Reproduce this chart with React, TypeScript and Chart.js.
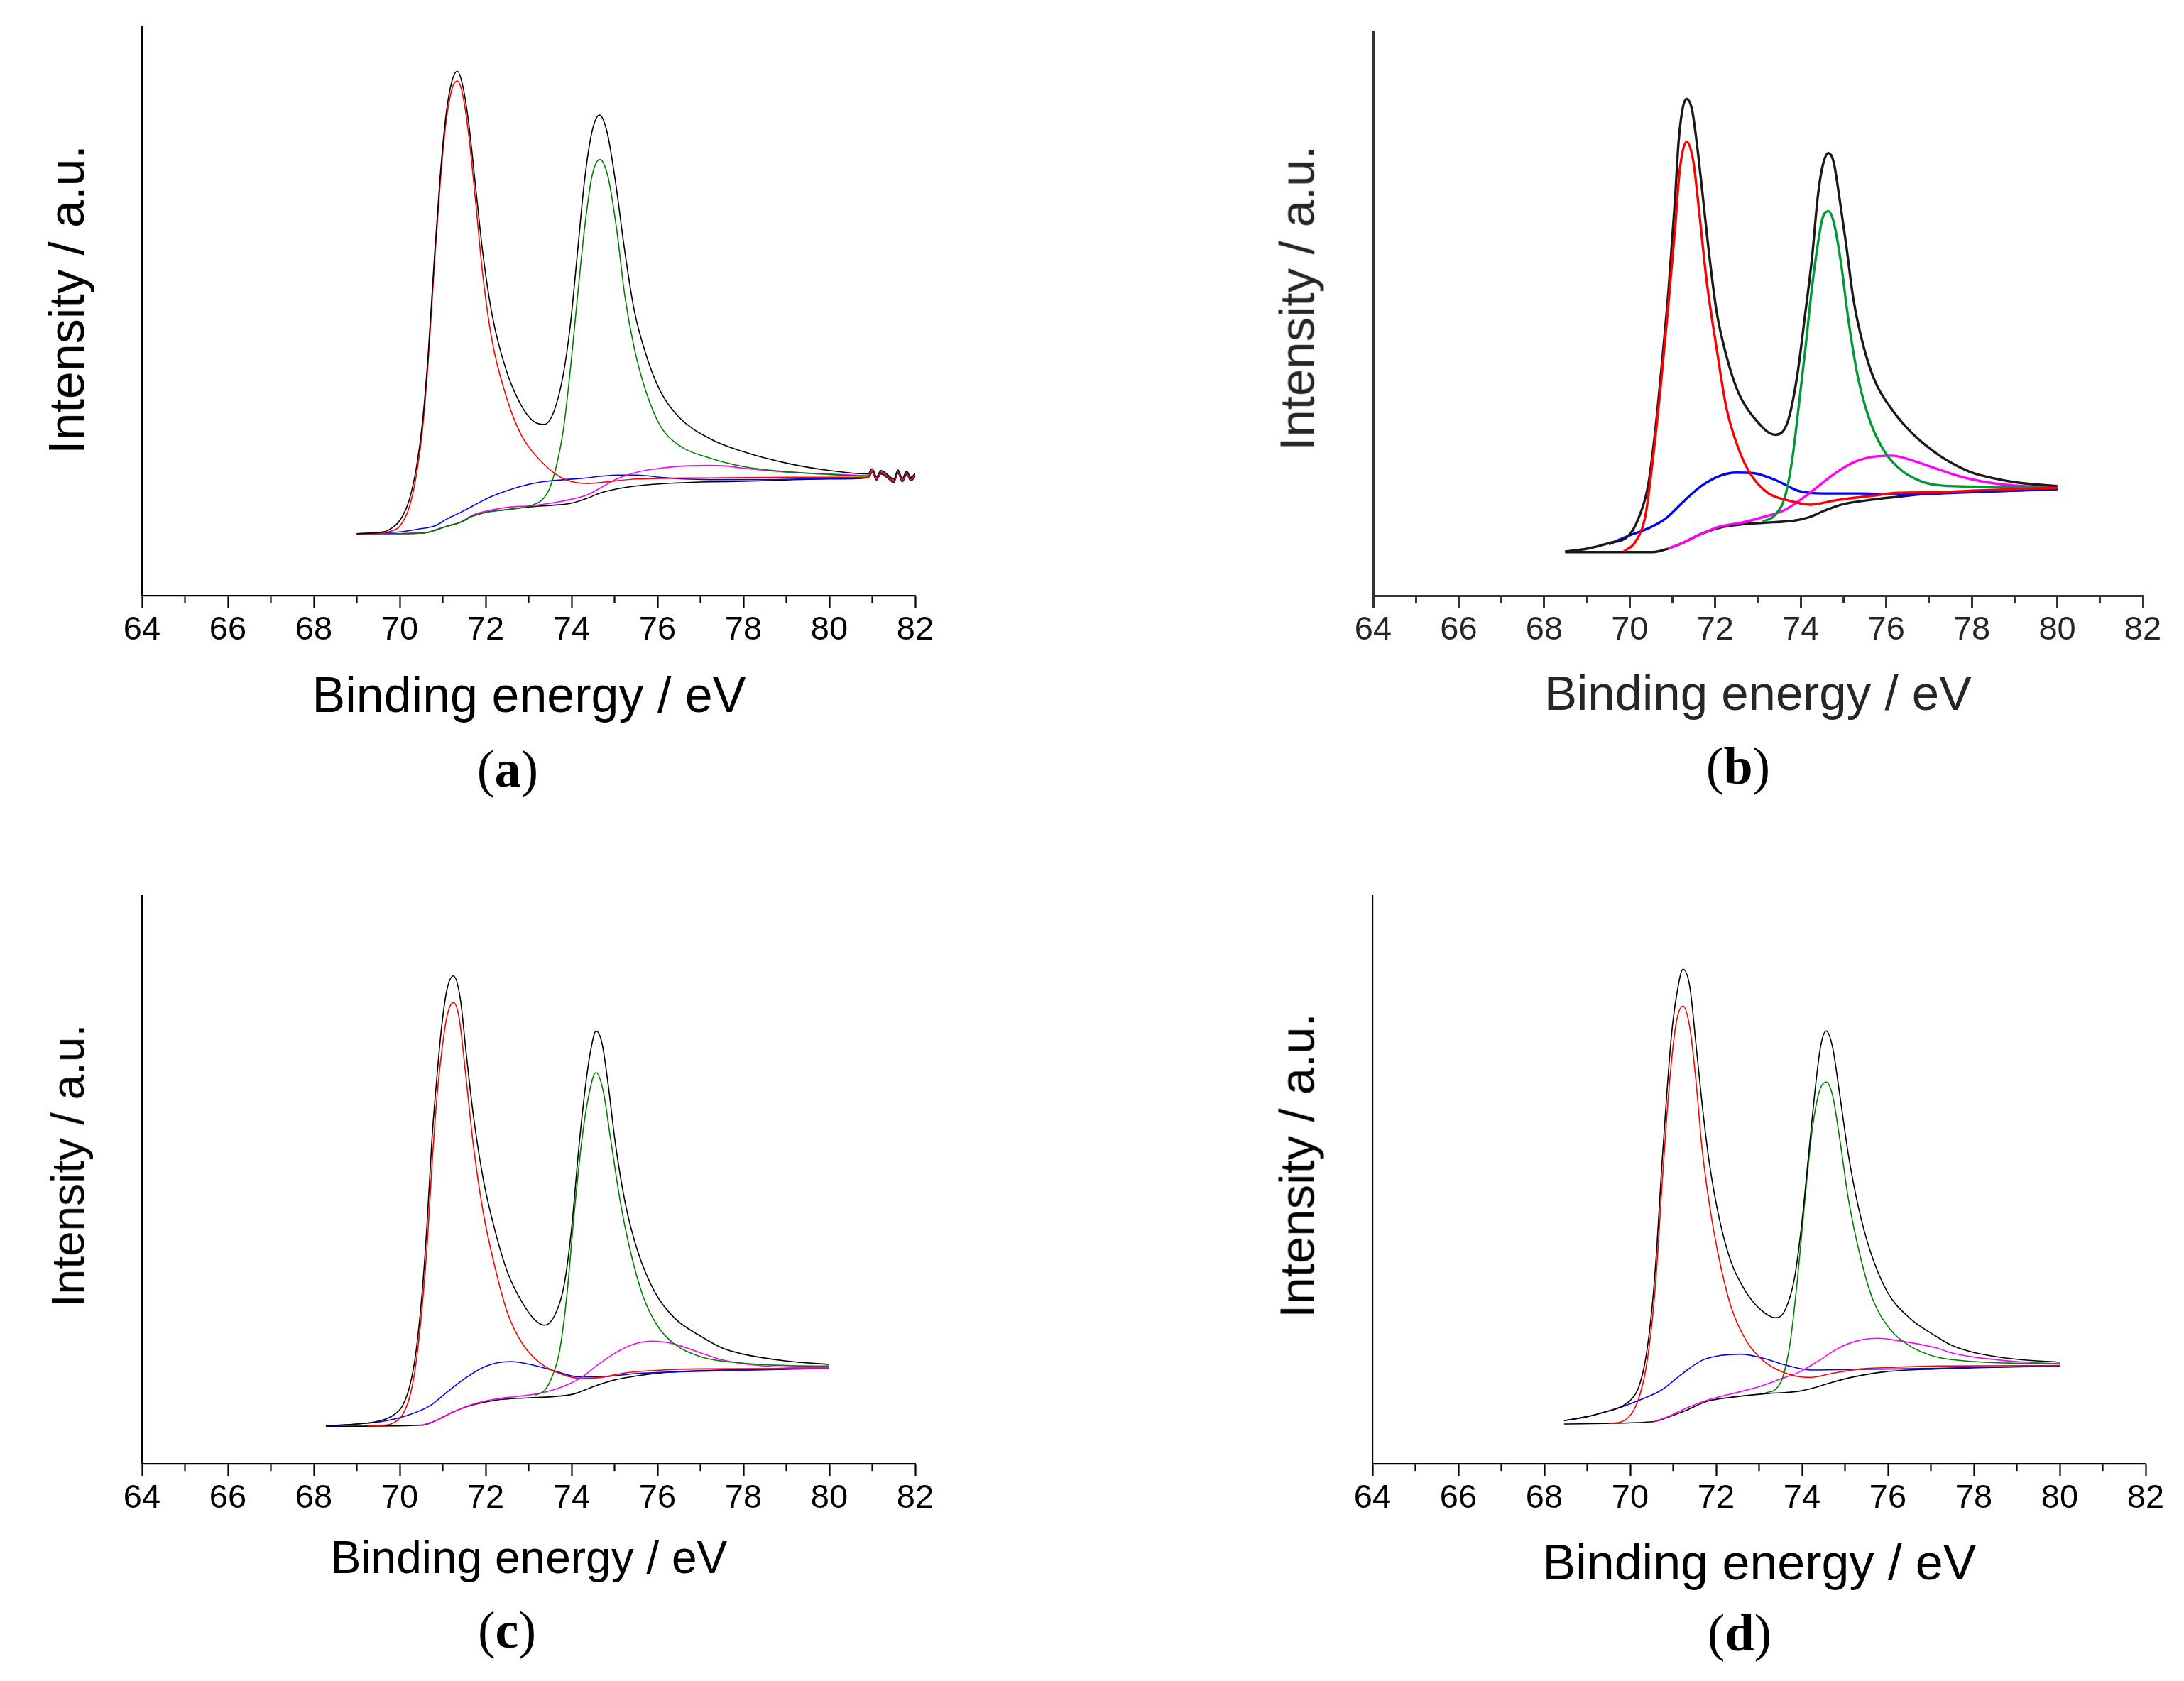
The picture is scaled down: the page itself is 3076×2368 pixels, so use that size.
import { useEffect, useRef } from 'react'
import { Chart, registerables } from 'chart.js'

Chart.register(...registerables)

type Pt = [number, number]

// binding energy (eV) / intensity (a.u., 0 = x axis, 100 = top of y axis)

// ---- panel (a)
const aTotal: Pt[] = [
  [69.0, 10.9], [69.5, 11.1], [69.73, 11.5], [70.0, 13.2], [70.22, 16.8], [70.39, 22.6], [70.53, 30.5],
  [70.66, 42.2], [70.8, 58.6], [70.94, 73.6], [71.08, 84.7], [71.22, 90.6], [71.34, 92.2], [71.46, 89.9],
  [71.6, 83.4], [71.77, 71.6], [71.93, 60.5], [72.15, 49.4], [72.48, 39.6], [72.81, 33.7], [73.09, 30.8],
  [73.36, 30.1], [73.59, 32.4], [73.81, 39.0], [73.97, 47.5], [74.14, 60.5], [74.3, 72.9], [74.47, 81.4],
  [74.65, 84.5], [74.83, 81.4], [75.02, 72.9], [75.24, 60.5], [75.46, 50.1], [75.74, 42.2], [76.07, 35.9],
  [76.51, 31.3], [77.22, 27.6], [78.0, 25.3], [79.0, 23.3], [80.0, 22.0], [80.9, 21.4], [81.0, 22.3],
  [81.1, 20.9], [81.2, 22.0], [81.35, 21.3], [81.5, 20.5], [81.6, 22.1], [81.7, 20.6], [81.8, 21.9],
  [81.9, 20.8], [82.0, 21.5],
]
const aRed: Pt[] = [
  [69.0, 10.9], [69.5, 10.9], [69.73, 11.2], [70.0, 12.2], [70.22, 15.5], [70.39, 21.3], [70.53, 29.2],
  [70.66, 40.9], [70.8, 57.3], [70.94, 72.3], [71.08, 83.4], [71.22, 89.2], [71.34, 90.5], [71.46, 88.3],
  [71.6, 81.4], [71.77, 69.0], [71.93, 56.6], [72.15, 44.8], [72.48, 35.0], [72.81, 28.5], [73.09, 25.3],
  [73.37, 23.0], [73.7, 21.0], [74.03, 20.0], [74.39, 19.7], [74.8, 20.0], [75.52, 20.5], [77.22, 20.7],
  [79.0, 20.8], [80.9, 20.8], [81.0, 21.8], [81.1, 20.5], [81.2, 21.6], [81.35, 20.9], [81.5, 20.1],
  [81.6, 21.7], [81.7, 20.2], [81.8, 21.5], [81.9, 20.4], [82.0, 21.1],
]
const aGreen: Pt[] = [
  [69.0, 10.9], [70.0, 10.9], [70.55, 11.0], [70.83, 11.5], [71.1, 12.2], [71.38, 12.8], [71.71, 14.0],
  [72.04, 14.7], [72.48, 15.1], [73.04, 15.8], [73.31, 16.8], [73.48, 18.7], [73.64, 22.6], [73.81, 29.2],
  [73.97, 39.6], [74.14, 52.7], [74.3, 64.4], [74.47, 73.6], [74.66, 76.7], [74.85, 73.6], [75.05, 64.4],
  [75.24, 52.7], [75.46, 43.5], [75.74, 35.7], [76.07, 29.8], [76.51, 26.4], [77.22, 24.2], [78.0, 22.7],
  [79.0, 21.8], [80.0, 21.3], [80.9, 21.0], [81.0, 21.9], [81.1, 20.6], [81.2, 21.7], [81.35, 21.0],
  [81.5, 20.2], [81.6, 21.8], [81.7, 20.3], [81.8, 21.6], [81.9, 20.5], [82.0, 21.2],
]
const aBlue: Pt[] = [
  [69.0, 10.9], [69.45, 11.0], [70.0, 11.2], [70.44, 11.7], [70.83, 12.3], [71.1, 13.5], [71.38, 14.5],
  [71.71, 15.8], [72.04, 17.1], [72.48, 18.4], [72.81, 19.2], [73.31, 20.0], [73.86, 20.4], [74.36, 20.7],
  [74.69, 21.0], [75.08, 21.2], [75.52, 21.2], [76.07, 20.8], [76.62, 20.5], [77.22, 20.4], [78.5, 20.4],
  [80.0, 20.6], [80.9, 20.8], [81.0, 21.7], [81.1, 20.4], [81.2, 21.5], [81.35, 20.8], [81.5, 20.0],
  [81.6, 21.6], [81.7, 20.1], [81.8, 21.4], [81.9, 20.3], [82.0, 21.0],
]
const aMagenta: Pt[] = [
  [69.0, 10.9], [70.0, 10.9], [70.55, 11.0], [70.83, 11.5], [71.1, 12.2], [71.38, 12.8], [71.71, 14.2],
  [72.04, 14.9], [72.48, 15.5], [73.04, 15.8], [73.48, 16.2], [73.97, 16.9], [74.36, 17.7], [74.69, 19.0],
  [75.02, 20.4], [75.52, 21.7], [76.07, 22.4], [76.62, 22.8], [77.22, 22.9], [77.6, 22.8], [78.0, 22.4],
  [79.0, 21.7], [80.0, 21.4], [80.9, 21.1], [81.0, 22.0], [81.1, 20.7], [81.2, 21.8], [81.35, 21.1],
  [81.5, 20.3], [81.6, 21.9], [81.7, 20.4], [81.8, 21.7], [81.9, 20.6], [82.0, 21.3],
]
const aBase: Pt[] = [
  [69.0, 10.9], [70.0, 10.9], [70.55, 11.0], [70.83, 11.5], [71.1, 12.2], [71.38, 12.8], [71.71, 14.0],
  [72.04, 14.7], [72.48, 15.1], [73.04, 15.6], [73.59, 15.9], [73.97, 16.2], [74.36, 17.1], [74.69, 18.1],
  [75.24, 19.0], [75.79, 19.5], [76.45, 19.8], [77.22, 20.0], [78.0, 20.1], [80.0, 20.5], [80.9, 20.7],
  [81.0, 21.6], [81.1, 20.3], [81.2, 21.4], [81.35, 20.7], [81.5, 19.9], [81.6, 21.5], [81.7, 20.0],
  [81.8, 21.3], [81.9, 20.2], [82.0, 20.9],
]

// ---- panel (b)
const bTotal: Pt[] = [
  [68.49, 7.8], [69.0, 8.3], [69.51, 9.3], [69.97, 10.6], [70.2, 13.6], [70.43, 19.5], [70.6, 29.4],
  [70.77, 42.5], [70.91, 54.4], [71.06, 70.2], [71.14, 80.1], [71.23, 86.0], [71.33, 88.0], [71.46, 86.0],
  [71.57, 80.1], [71.69, 72.1], [71.83, 62.3], [72.03, 50.4], [72.26, 42.5], [72.54, 36.0], [72.94, 31.2],
  [73.4, 28.5], [73.69, 30.7], [73.91, 38.6], [74.09, 49.1], [74.26, 59.6], [74.4, 70.8], [74.51, 76.1],
  [74.65, 78.4], [74.77, 76.8], [74.91, 70.2], [75.06, 62.3], [75.23, 52.6], [75.46, 44.4], [75.74, 37.9],
  [76.14, 32.9], [76.6, 28.8], [77.17, 25.2], [77.6, 23.2], [78.0, 21.8], [78.5, 20.8], [79.0, 20.1],
  [80.0, 19.4],
]
const bRed: Pt[] = [
  [69.86, 7.8], [70.14, 9.6], [70.37, 14.3], [70.54, 24.1], [70.71, 36.0], [70.89, 50.4], [71.06, 65.0],
  [71.17, 75.4], [71.33, 80.4], [71.49, 76.8], [71.63, 67.6], [71.8, 55.7], [72.03, 43.9], [72.26, 33.3],
  [72.54, 26.1], [72.83, 21.5], [73.23, 18.2], [73.69, 16.9], [74.23, 16.1], [74.83, 16.9], [75.69, 17.7],
  [76.26, 18.2], [77.17, 18.3], [78.0, 18.6], [80.0, 19.1],
]
const bGreen: Pt[] = [
  [73.11, 13.1], [73.4, 14.3], [73.63, 17.5], [73.8, 24.1], [73.94, 32.7], [74.11, 43.9], [74.26, 54.4],
  [74.4, 62.3], [74.51, 66.9], [74.65, 68.1], [74.77, 66.2], [74.94, 59.0], [75.11, 49.1], [75.34, 38.6],
  [75.63, 30.7], [75.97, 25.4], [76.37, 22.1], [76.83, 20.2], [77.17, 19.6], [78.0, 19.3], [79.0, 19.2],
  [80.0, 19.3],
]
const bBlue: Pt[] = [
  [69.51, 9.1], [69.97, 10.6], [70.43, 11.9], [70.83, 13.6], [71.29, 16.9], [71.69, 19.5], [72.14, 21.3],
  [72.49, 21.8], [72.89, 21.7], [73.4, 20.5], [73.97, 18.5], [74.54, 18.1], [75.4, 18.1], [76.37, 17.9],
  [77.6, 18.2], [80.0, 18.9],
]
const bMagenta: Pt[] = [
  [70.89, 8.3], [71.23, 9.3], [71.69, 11.0], [72.14, 12.3], [72.6, 12.9], [73.11, 13.9], [73.63, 15.2],
  [74.09, 17.5], [74.43, 19.5], [74.83, 21.8], [75.23, 23.6], [75.69, 24.6], [76.14, 24.8], [76.54, 24.1],
  [77.17, 22.5], [77.6, 21.4], [78.0, 20.6], [78.5, 19.9], [79.0, 19.5], [80.0, 19.2],
]
const bBase: Pt[] = [
  [68.49, 7.7], [70.54, 7.7], [70.89, 8.3], [71.23, 9.3], [71.69, 11.0], [72.14, 12.1], [72.6, 12.6],
  [73.11, 12.9], [73.86, 13.3], [74.2, 13.9], [74.54, 15.0], [75.0, 16.2], [75.57, 16.9], [76.26, 17.5],
  [77.17, 18.2], [78.0, 18.4], [80.0, 18.8],
]

// ---- panel (c)
const cTotal: Pt[] = [
  [68.28, 6.7], [69.0, 7.0], [69.5, 7.5], [69.84, 8.5], [70.07, 10.3], [70.24, 13.9], [70.38, 19.8],
  [70.53, 30.9], [70.64, 42.7], [70.75, 57.1], [70.87, 68.5], [70.98, 77.3], [71.1, 83.5], [71.25, 85.9],
  [71.41, 81.9], [71.55, 72.1], [71.72, 61.0], [71.95, 49.9], [72.23, 40.7], [72.52, 33.5], [72.86, 28.3],
  [73.15, 25.3], [73.37, 24.4], [73.66, 27.0], [73.83, 31.6], [74.0, 41.4], [74.17, 55.7], [74.34, 67.5],
  [74.46, 73.4], [74.57, 76.2], [74.71, 74.0], [74.85, 66.9], [75.02, 56.4], [75.25, 45.9], [75.54, 37.4],
  [75.94, 30.2], [76.39, 25.7], [77.02, 22.4], [77.5, 20.4], [78.0, 19.3], [79.0, 18.1], [80.0, 17.5],
]
const cRed: Pt[] = [
  [69.27, 6.7], [69.67, 6.8], [69.9, 7.4], [70.07, 8.7], [70.24, 12.0], [70.38, 17.8], [70.53, 28.3],
  [70.64, 38.7], [70.75, 52.5], [70.87, 64.9], [70.98, 72.7], [71.1, 78.8], [71.25, 81.2], [71.38, 78.6],
  [71.55, 67.5], [71.72, 55.7], [71.95, 44.0], [72.23, 34.2], [72.52, 26.3], [72.86, 21.1], [73.26, 17.8],
  [73.72, 15.9], [74.23, 15.0], [74.68, 15.2], [75.25, 16.0], [76.11, 16.5], [77.02, 16.7], [80.0, 16.8],
]
const cGreen: Pt[] = [
  [73.15, 12.1], [73.37, 12.9], [73.54, 15.2], [73.72, 19.8], [73.89, 29.6], [74.06, 44.0], [74.23, 56.4],
  [74.4, 64.9], [74.57, 68.9], [74.74, 65.5], [74.91, 57.1], [75.14, 45.9], [75.37, 37.4], [75.66, 29.6],
  [75.99, 24.4], [76.39, 21.1], [77.02, 18.8], [78.0, 17.7], [79.0, 17.3], [80.0, 17.2],
]
const cBlue: Pt[] = [
  [68.28, 6.6], [69.0, 7.0], [69.56, 7.4], [70.13, 8.4], [70.7, 10.2], [71.1, 12.6], [71.55, 15.2],
  [72.01, 17.2], [72.58, 18.0], [73.03, 17.5], [73.54, 16.5], [74.17, 15.3], [74.63, 15.3], [75.54, 15.9],
  [77.02, 16.3], [80.0, 16.8],
]
const cMagenta: Pt[] = [
  [70.53, 6.8], [70.87, 7.7], [71.21, 9.0], [71.67, 10.4], [72.23, 11.4], [72.8, 11.9], [73.37, 12.6],
  [73.83, 13.7], [74.23, 15.2], [74.57, 17.2], [74.97, 19.3], [75.42, 21.0], [75.88, 21.6], [76.33, 21.2],
  [77.02, 19.5], [77.5, 18.3], [78.0, 17.6], [79.0, 17.0], [80.0, 16.9],
]
const cBase: Pt[] = [
  [68.28, 6.6], [70.53, 6.8], [70.87, 7.7], [71.21, 9.0], [71.67, 10.3], [72.23, 11.2], [72.97, 11.6],
  [73.54, 11.8], [74.06, 12.3], [74.51, 13.6], [74.97, 14.7], [75.54, 15.5], [76.22, 16.1], [77.02, 16.4],
  [78.0, 16.6], [80.0, 16.8],
]

// ---- panel (d)
const dTotal: Pt[] = [
  [68.46, 7.6], [69.0, 8.3], [69.4, 9.1], [69.8, 10.1], [70.02, 11.3], [70.19, 13.3], [70.36, 18.5],
  [70.51, 27.6], [70.62, 38.1], [70.73, 51.8], [70.85, 64.9], [70.96, 75.4], [71.08, 82.5], [71.23, 87.1],
  [71.39, 83.9], [71.53, 74.0], [71.67, 63.6], [71.84, 53.1], [72.07, 43.3], [72.35, 35.5], [72.7, 30.2],
  [73.04, 27.1], [73.38, 25.7], [73.6, 27.0], [73.83, 32.9], [74.0, 42.7], [74.17, 55.7], [74.32, 66.9],
  [74.43, 73.4], [74.56, 76.2], [74.71, 73.4], [74.88, 64.9], [75.08, 54.4], [75.31, 45.3], [75.59, 37.4],
  [75.99, 30.2], [76.5, 25.7], [77.13, 22.4], [77.5, 20.8], [78.0, 19.6], [79.0, 18.4], [80.0, 17.9],
]
const dRed: Pt[] = [
  [69.51, 7.1], [69.8, 7.4], [70.02, 8.7], [70.19, 11.3], [70.36, 16.5], [70.51, 25.0], [70.62, 34.8],
  [70.73, 47.9], [70.85, 61.0], [70.96, 70.8], [71.08, 78.0], [71.23, 80.6], [71.39, 76.7], [71.53, 67.5],
  [71.67, 55.7], [71.84, 45.9], [72.07, 36.1], [72.35, 27.6], [72.7, 21.7], [73.09, 18.2], [73.6, 16.0],
  [74.17, 15.2], [74.69, 15.9], [75.37, 16.7], [76.22, 17.0], [77.13, 17.2], [80.0, 17.3],
]
const dGreen: Pt[] = [
  [73.15, 12.5], [73.38, 13.1], [73.55, 15.2], [73.72, 21.1], [73.89, 32.2], [74.06, 45.9], [74.23, 58.4],
  [74.4, 65.5], [74.56, 67.2], [74.71, 64.9], [74.88, 57.1], [75.08, 46.6], [75.37, 36.1], [75.65, 28.9],
  [76.05, 23.7], [76.5, 20.8], [77.13, 18.8], [78.0, 18.0], [79.0, 17.7], [80.0, 17.6],
]
const dBlue: Pt[] = [
  [68.46, 7.6], [69.0, 8.3], [69.4, 9.1], [69.8, 10.0], [70.25, 11.3], [70.71, 12.9], [71.22, 15.9],
  [71.67, 18.2], [72.13, 19.1], [72.58, 19.3], [73.09, 18.6], [73.66, 17.3], [74.23, 16.5], [75.08, 16.6],
  [77.13, 16.8], [80.0, 17.3],
]
const dMagenta: Pt[] = [
  [70.54, 7.4], [70.88, 8.3], [71.27, 9.7], [71.79, 11.2], [72.35, 12.3], [72.92, 13.4], [73.49, 14.9],
  [73.95, 16.2], [74.4, 18.2], [74.86, 20.4], [75.31, 21.7], [75.77, 22.1], [76.22, 21.7], [77.13, 20.4],
  [77.5, 19.5], [78.0, 18.8], [79.0, 18.0], [80.0, 17.6],
]
const dBase: Pt[] = [
  [68.46, 7.0], [70.54, 7.4], [70.88, 8.2], [71.27, 9.3], [71.79, 11.0], [72.35, 11.7], [73.09, 12.3],
  [73.95, 12.8], [74.29, 13.4], [74.63, 14.2], [75.2, 15.3], [75.94, 16.2], [77.13, 16.7], [78.0, 16.9],
  [80.0, 17.2],
]

const X_MIN = 64
const X_MAX = 82
const X_TITLE = 'Binding energy / eV'
const Y_TITLE = 'Intensity / a.u.'

const SANS = '"Liberation Sans", Arial, sans-serif'
const SERIF = '"Liberation Serif", "Times New Roman", serif'

// padding around the plot area inside each canvas
const PAD_L = 80
const PAD_R = 80
const PAD_T = 20
const X_AXIS_H = 120

type Panel = {
  label: string
  left: number
  right: number
  top: number
  bottom: number
  series: { data: Pt[]; color: string }[]
  lineWidth: number
  axisColor: string
  axisWidth: number
  textColor: string
  tickSize: number
  xTitle: [number, number, number]
  yTitle: [number, number, number]
  caption: [number, number]
}

const GREEN = '#008000'

const panels: Panel[] = [
  {
    label: 'a', left: 200, right: 1289, top: 38, bottom: 839,
    series: [
      { data: aTotal, color: '#000' }, { data: aRed, color: '#ff0000' }, { data: aGreen, color: GREEN },
      { data: aMagenta, color: '#ff00ff' }, { data: aBlue, color: '#0000ff' }, { data: aBase, color: '#000' },
    ],
    lineWidth: 1.6, axisColor: '#000', axisWidth: 2.2, textColor: '#000', tickSize: 47,
    xTitle: [745, 979, 70], yTitle: [94, 422, 70], caption: [715, 1083],
  },
  {
    label: 'b', left: 1934, right: 3018, top: 44, bottom: 839,
    series: [
      { data: bRed, color: '#ff0000' }, { data: bTotal, color: '#1a1a1a' }, { data: bGreen, color: '#009933' },
      { data: bMagenta, color: '#ff00ff' }, { data: bBlue, color: '#0000ff' }, { data: bBase, color: '#1a1a1a' },
    ],
    lineWidth: 3.4, axisColor: '#333', axisWidth: 3, textColor: '#262626', tickSize: 47,
    xTitle: [2476, 976, 69], yTitle: [1827, 420, 69], caption: [2448, 1079],
  },
  {
    label: 'c', left: 200, right: 1289, top: 1262, bottom: 2062,
    series: [
      { data: cTotal, color: '#000' }, { data: cRed, color: '#ff0000' }, { data: cGreen, color: GREEN },
      { data: cMagenta, color: '#ff00ff' }, { data: cBlue, color: '#0000ff' }, { data: cBase, color: '#000' },
    ],
    lineWidth: 1.6, axisColor: '#000', axisWidth: 2.2, textColor: '#000', tickSize: 47,
    xTitle: [745, 2194, 64], yTitle: [96, 1642, 64], caption: [714, 2296],
  },
  {
    label: 'd', left: 1933, right: 3022, top: 1262, bottom: 2062,
    series: [
      { data: dTotal, color: '#000' }, { data: dRed, color: '#ff0000' }, { data: dGreen, color: GREEN },
      { data: dMagenta, color: '#ff00ff' }, { data: dBlue, color: '#0000ff' }, { data: dBase, color: '#000' },
    ],
    lineWidth: 1.6, axisColor: '#000', axisWidth: 2.2, textColor: '#000', tickSize: 47,
    xTitle: [2478, 2201, 70], yTitle: [1827, 1642, 69], caption: [2450, 2300],
  },
]

function XpsPanel({ p }: { p: Panel }) {
  const canvasRef = useRef<HTMLCanvasElement | null>(null)
  const w = p.right - p.left + PAD_L + PAD_R
  const h = p.bottom - p.top + PAD_T + X_AXIS_H

  useEffect(() => {
    if (!canvasRef.current) return
    const ctx = canvasRef.current.getContext('2d')!
    const chart = new Chart(ctx, {
      type: 'line',
      data: {
        datasets: p.series.map((s) => ({
          data: s.data.map(([x, y]) => ({ x, y })),
          borderColor: s.color,
          borderWidth: p.lineWidth,
          pointRadius: 0,
          fill: false,
          cubicInterpolationMode: 'monotone' as const,
        })),
      },
      options: {
        animation: false,
        responsive: false,
        devicePixelRatio: 1,
        events: [],
        layout: { padding: { left: PAD_L, right: PAD_R, top: PAD_T, bottom: 0 } },
        plugins: { legend: { display: false }, tooltip: { enabled: false } },
        scales: {
          x: {
            type: 'linear',
            min: X_MIN,
            max: X_MAX,
            afterFit: (scale: any) => { scale.height = X_AXIS_H },
            afterBuildTicks: (scale: any) => {
              const t = []
              for (let v = X_MIN; v <= X_MAX; v++) t.push({ value: v })
              scale.ticks = t
            },
            border: { display: true, color: p.axisColor, width: p.axisWidth },
            grid: {
              display: true,
              drawOnChartArea: false,
              drawTicks: true,
              tickLength: 17,
              tickWidth: p.axisWidth,
              tickColor: p.axisColor,
              // odd values are minor ticks: only the first 9px are drawn
              tickBorderDash: (c: any) => (c.tick && c.tick.value % 2 !== 0 ? [9, 40] : []),
            },
            ticks: {
              autoSkip: false,
              maxRotation: 0,
              padding: 4,
              color: p.textColor,
              font: { family: SANS, size: p.tickSize },
              callback: (v: any) => (Number(v) % 2 === 0 ? String(v) : ''),
            },
          },
          y: {
            type: 'linear',
            min: 0,
            max: 100,
            afterFit: (scale: any) => { scale.width = 0 },
            border: { display: true, color: p.axisColor, width: p.axisWidth },
            grid: { display: false, drawTicks: false },
            ticks: { display: false },
          },
        },
      },
    })
    return () => chart.destroy()
  }, [])

  const text = (cx: number, cy: number, size: number, rotate: boolean, content: any, font = SANS) => (
    <div
      style={{
        position: 'absolute',
        left: cx,
        top: cy,
        transform: `translate(-50%, -50%)${rotate ? ' rotate(-90deg)' : ''}`,
        fontFamily: font,
        fontSize: size,
        lineHeight: 1,
        whiteSpace: 'nowrap',
        color: p.textColor,
      }}
    >
      {content}
    </div>
  )

  return (
    <>
      <canvas
        ref={canvasRef}
        width={w}
        height={h}
        style={{ position: 'absolute', left: p.left - PAD_L, top: p.top - PAD_T, width: w, height: h }}
      />
      {text(p.xTitle[0], p.xTitle[1], p.xTitle[2], false, X_TITLE)}
      {text(p.yTitle[0], p.yTitle[1], p.yTitle[2], true, Y_TITLE)}
      {text(p.caption[0], p.caption[1], 74, false, (
        <span style={{ color: '#000' }}>(<b>{p.label}</b>)</span>
      ), SERIF)}
    </>
  )
}

export default function App() {
  return (
    <div style={{ position: 'absolute', left: 0, top: 0, width: 3076, height: 2368, background: '#fff', overflow: 'hidden' }}>
      {panels.map((p) => (
        <XpsPanel key={p.label} p={p} />
      ))}
    </div>
  )
}
